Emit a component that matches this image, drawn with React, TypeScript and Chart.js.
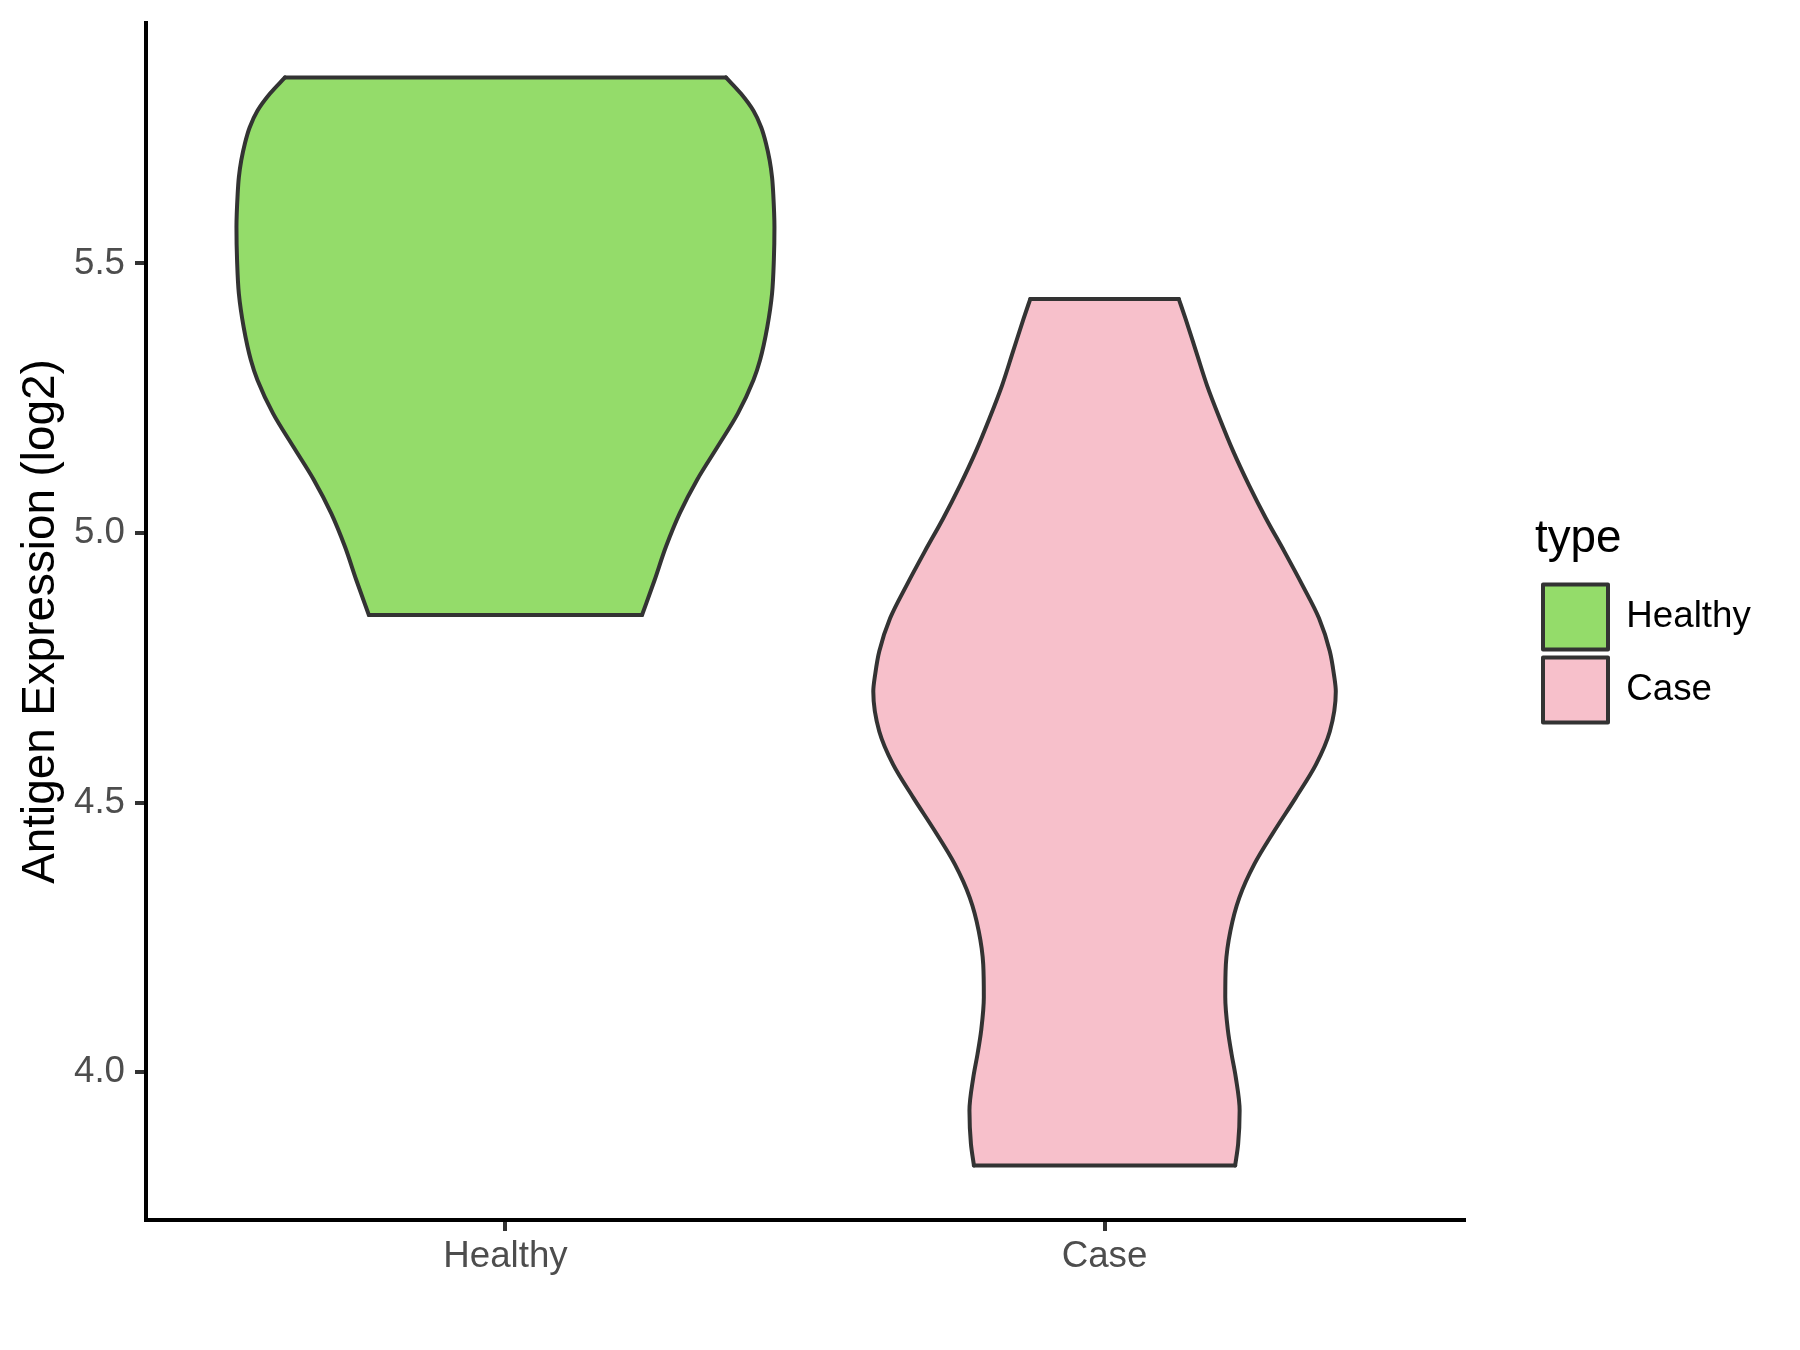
import React, { useEffect, useRef } from 'react';
import { Chart, registerables } from 'chart.js';

Chart.register(...registerables);

// ---------- data ----------
const categories = ['Healthy', 'Case'];
const categoryColors = ['#94DC6A', '#F7C0CB'];
const outlineColor = '#333333';

// Expression levels (top to bottom) and violin half-widths (in category units) for each group
const healthyLevels = [5.845, 5.815, 5.783, 5.752, 5.722, 5.691, 5.66, 5.629, 5.567, 5.506, 5.444, 5.382, 5.321, 5.284, 5.222, 5.16, 5.099, 5.037, 4.975, 4.913, 4.848];
const healthyHalfWidth = [0.368, 0.393, 0.414, 0.427, 0.435, 0.441, 0.445, 0.447, 0.449, 0.448, 0.445, 0.437, 0.425, 0.414, 0.388, 0.354, 0.32, 0.291, 0.268, 0.249, 0.228];

const caseLevels = [5.434, 5.398, 5.336, 5.274, 5.213, 5.151, 5.089, 5.028, 4.966, 4.904, 4.842, 4.781, 4.737, 4.706, 4.632, 4.571, 4.509, 4.447, 4.386, 4.324, 4.262, 4.2, 4.139, 4.077, 4.034, 3.991, 3.929, 3.867, 3.827];
const caseHalfWidth = [0.124, 0.135, 0.153, 0.171, 0.192, 0.215, 0.241, 0.269, 0.3, 0.33, 0.358, 0.376, 0.383, 0.386, 0.376, 0.353, 0.319, 0.283, 0.25, 0.225, 0.21, 0.2025, 0.2015, 0.206, 0.212, 0.219, 0.2255, 0.223, 0.218];

const yTickValues = [4.0, 4.5, 5.0, 5.5];
const yAxisTitle = 'Antigen Expression (log2)';
const legendTitle = 'type';

// ---------- helpers ----------
const FONT = '"Liberation Sans", Arial, Helvetica, sans-serif';
const OUTLINE_W = 4;
const AXIS_W = 4;

const allLevels = [...healthyLevels, ...caseLevels];
const dataMin = Math.min(...allLevels);
const dataMax = Math.max(...allLevels);
const yPad = (dataMax - dataMin) * 0.05;

function violinDatasets(i: number, levels: number[], hw: number[]) {
  const pos = i + 1;
  const last = levels.length - 1;
  const common = {
    borderColor: outlineColor,
    borderWidth: OUTLINE_W,
    borderCapStyle: 'round',
    borderJoinStyle: 'round',
    pointRadius: 0,
    pointHoverRadius: 0,
  };
  return [
    {
      ...common,
      label: categories[i],
      data: levels.map((y, k) => ({ x: pos + hw[k], y })),
      backgroundColor: categoryColors[i],
      fill: '+1',
      cubicInterpolationMode: 'monotone',
    },
    {
      ...common,
      label: '',
      data: levels.map((y, k) => ({ x: pos - hw[k], y })),
      backgroundColor: categoryColors[i],
      fill: false,
      cubicInterpolationMode: 'monotone',
    },
    {
      ...common,
      label: '',
      data: [
        { x: pos - hw[0], y: levels[0] },
        { x: pos + hw[0], y: levels[0] },
      ],
      fill: false,
      tension: 0,
    },
    {
      ...common,
      label: '',
      data: [
        { x: pos - hw[last], y: levels[last] },
        { x: pos + hw[last], y: levels[last] },
      ],
      fill: false,
      tension: 0,
    },
  ];
}

export default function App() {
  const canvasRef = useRef<HTMLCanvasElement | null>(null);

  useEffect(() => {
    const canvas = canvasRef.current;
    if (!canvas) return;

    const datasets = [
      ...violinDatasets(0, healthyLevels, healthyHalfWidth),
      ...violinDatasets(1, caseLevels, caseHalfWidth),
    ];

    const tickGrid = {
      drawOnChartArea: false,
      drawTicks: true,
      tickLength: 11,
      tickWidth: AXIS_W,
      tickColor: outlineColor,
      color: outlineColor,
      lineWidth: AXIS_W,
    };

    const chart = new Chart(canvas, {
      type: 'line',
      data: { datasets },
      options: {
        indexAxis: 'y',
        responsive: false,
        animation: false,
        events: [],
        layout: { padding: { top: 23, left: 0, bottom: 0, right: 45 } },
        plugins: {
          filler: { drawTime: 'beforeDatasetsDraw' },
          tooltip: { enabled: false },
          legend: {
            display: true,
            position: 'right',
            align: 'center',
            fullSize: false,
            maxWidth: 220,
            title: {
              display: true,
              text: legendTitle,
              position: 'start',
              color: '#000000',
              font: { family: FONT, size: 45.8 },
              padding: { top: 4, bottom: 5 },
            },
            labels: {
              boxWidth: 65,
              boxHeight: 65,
              padding: 8,
              color: '#000000',
              font: { family: FONT, size: 36.7 },
              filter: (item: any) => item.datasetIndex % 4 === 0,
            },
          },
        },
        scales: {
          x: {
            type: 'linear',
            position: 'bottom',
            min: 1 - 0.6,
            max: categories.length + 0.6,
            afterBuildTicks: (s: any) => {
              s.ticks = categories.map((_, i) => ({ value: i + 1 }));
            },
            afterFit: (s: any) => {
              s.height = 130;
              s.paddingLeft = 0;
              s.paddingRight = 0;
            },
            ticks: {
              autoSkip: false,
              maxRotation: 0,
              padding: 4,
              color: '#4D4D4D',
              font: { family: FONT, size: 36.7 },
              callback: (v: any) => categories[Math.round(Number(v)) - 1] ?? '',
            },
            grid: tickGrid,
            border: { display: true, color: '#000000', width: AXIS_W },
          },
          y: {
            type: 'linear',
            position: 'left',
            min: dataMin - yPad,
            max: dataMax + yPad,
            afterBuildTicks: (s: any) => {
              s.ticks = yTickValues.map((v) => ({ value: v }));
            },
            afterFit: (s: any) => {
              s.width = 146;
              s.paddingTop = 0;
              s.paddingBottom = 0;
            },
            ticks: {
              padding: 10,
              color: '#4D4D4D',
              font: { family: FONT, size: 36.7 },
              callback: (v: any) => Number(v).toFixed(1),
            },
            grid: tickGrid,
            border: { display: true, color: '#000000', width: AXIS_W },
            title: {
              display: true,
              text: yAxisTitle,
              color: '#000000',
              font: { family: FONT, size: 45.8 },
              padding: { top: 13.5, bottom: 0 },
            },
          },
          y2: {
            type: 'linear',
            position: 'right',
            display: true,
            afterFit: (s: any) => {
              s.width = 71;
              s.paddingTop = 0;
              s.paddingBottom = 0;
            },
            ticks: { display: false },
            grid: { display: false },
            border: { display: false },
            title: { display: false },
          },
        },
      } as any,
    });

    return () => chart.destroy();
  }, []);

  return (
    <div style={{ position: 'absolute', left: 0, top: 0, width: 1800, height: 1350, background: '#ffffff' }}>
      <canvas ref={canvasRef} width={1800} height={1350} style={{ display: 'block' }} />
    </div>
  );
}
